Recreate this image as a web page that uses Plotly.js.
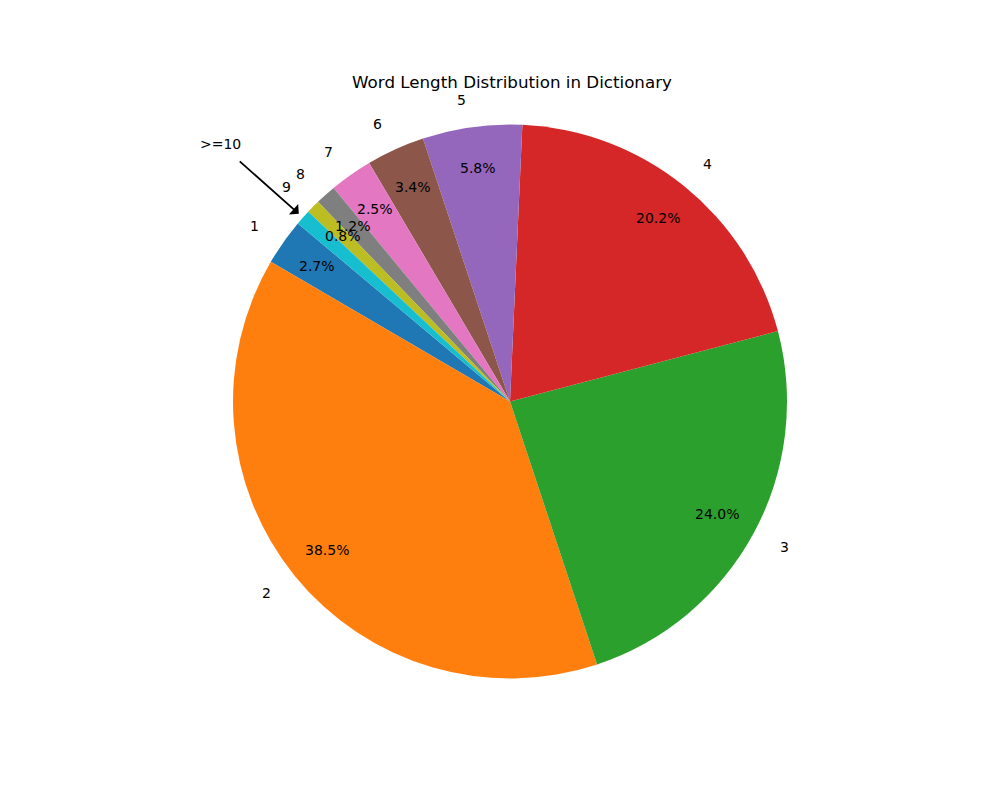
<!DOCTYPE html>
<html>
<head>
<meta charset="utf-8">
<script src="https://cdn.plot.ly/plotly-3.0.1.min.js"></script>
<style>
  body { margin: 0; background: #fff; }
  #chart { width: 1000px; height: 800px; }
</style>
</head>
<body>
<div id="chart"></div>
<script>
// word length buckets and their share of the dictionary (%)
var lengths = ['1', '2', '3', '4', '5', '6', '7', '8', '9', '>=10'];
var shares = [2.7, 38.5, 24.0, 20.2, 5.8, 3.4, 2.5, 1.2, 0.8, 0.9];
var colors = ['#1f77b4', '#ff7f0e', '#2ca02c', '#d62728', '#9467bd',
              '#8c564b', '#e377c2', '#7f7f7f', '#bcbd22', '#17becf'];

// pie placement in pixels (matches the figure)
var W = 1000, H = 800;
var cx = 510, cy = 401.5, R = 277;
var startAngle = 140; // degrees, counterclockwise from 3 o'clock

function toPaper(px, py) {
    return { x: px / W, y: (H - py) / H };
}

var total = shares.reduce(function (a, b) { return a + b; }, 0);
var annotations = [];
var angle = startAngle;
var arrowMid = null;

for (var i = 0; i < shares.length; i++) {
    var span = shares[i] / total * 360;
    var mid = (angle + span / 2) * Math.PI / 180;
    angle += span;

    var c = Math.cos(mid), s = Math.sin(mid);
    if (lengths[i] === '>=10') {
        arrowMid = mid;
        continue;
    }
    // outside label
    var lp = toPaper(cx + 1.1 * R * c, cy - 1.1 * R * s);
    annotations.push({
        x: lp.x, y: lp.y, xref: 'paper', yref: 'paper',
        text: lengths[i], showarrow: false,
        xanchor: c > 0 ? 'left' : 'right', yanchor: 'middle',
        font: { size: 14, color: '#000' }
    });
    // percentage inside
    var pp = toPaper(cx + 0.85 * R * c, cy - 0.85 * R * s);
    annotations.push({
        x: pp.x, y: pp.y, xref: 'paper', yref: 'paper',
        text: shares[i].toFixed(1) + '%', showarrow: false,
        xanchor: 'center', yanchor: 'middle',
        font: { size: 14, color: '#000' }
    });
}

// arrow pointing to the smallest bucket
if (arrowMid !== null) {
    var tipX = cx + 1.02 * R * Math.cos(arrowMid);
    var tipY = cy - 1.02 * R * Math.sin(arrowMid);
    var txtX = cx + 1.4 * R * Math.cos(arrowMid);
    var txtY = cy - 1.4 * R * Math.sin(arrowMid);
    var tp = toPaper(tipX, tipY);
    annotations.push({
        x: tp.x, y: tp.y, xref: 'paper', yref: 'paper',
        ax: txtX - tipX, ay: txtY - tipY, axref: 'pixel', ayref: 'pixel',
        text: '>=10', showarrow: true,
        arrowhead: 1, arrowsize: 1.3, arrowwidth: 1.8, arrowcolor: '#000',
        standoff: 0, startstandoff: 12,
        font: { size: 14, color: '#000' }
    });
}

// plotly counterclockwise pies end the first slice at `rotation`,
// so shift by the first slice's span to start it at startAngle
var firstSpan = shares[0] / total * 360;

var data = [
    {
        type: 'pie',
        values: shares,
        labels: lengths,
        sort: false,
        direction: 'counterclockwise',
        rotation: 90 - startAngle - firstSpan,
        textinfo: 'none',
        hoverinfo: 'label+percent',
        marker: { colors: colors, line: { width: 0 } },
        domain: {
            x: [(cx - R) / W, (cx + R) / W],
            y: [(H - cy - R) / H, (H - cy + R) / H]
        },
        showlegend: false
    }
];

var layout = {
    width: W,
    height: H,
    margin: { l: 0, r: 0, t: 0, b: 0 },
    paper_bgcolor: '#fff',
    font: { family: 'DejaVu Sans, sans-serif', color: '#000' },
    title: {
        text: 'Word Length Distribution in Dictionary',
        x: 0.512, y: (H - 82) / H,
        xanchor: 'center', yanchor: 'middle',
        font: { size: 16.7, color: '#000' }
    },
    annotations: annotations
};

Plotly.newPlot('chart', data, layout, { displayModeBar: false });
</script>
</body>
</html>
